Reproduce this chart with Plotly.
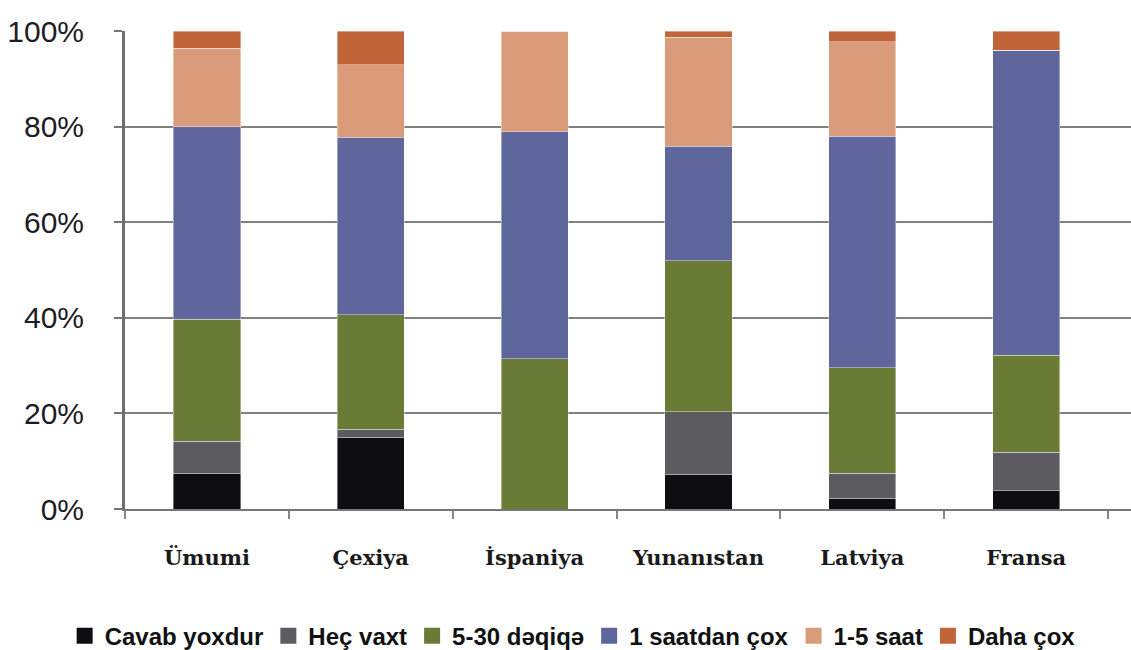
import plotly.graph_objects as go

categories = ["Ümumi", "Çexiya", "İspaniya", "Yunanıstan", "Latviya", "Fransa"]
series_names = ["Cavab yoxdur", "Heç vaxt", "5-30 dəqiqə", "1 saatdan çox", "1-5 saat", "Daha çox"]
cavab_yoxdur = [7.5, 15.0, 0.0, 7.3, 2.3, 3.8]
hec_vaxt = [6.7, 1.7, 0.0, 13.0, 5.2, 8.1]
deqiqe_5_30 = [25.5, 23.9, 31.4, 31.6, 22.0, 20.3]
saatdan_cox = [40.3, 37.2, 47.5, 24.0, 48.5, 63.8]
saat_1_5 = [16.4, 15.1, 21.1, 22.8, 19.7, 0.0]
daha_cox = [3.6, 7.1, 0.0, 1.3, 2.3, 4.0]
y_ticks = [0, 20, 40, 60, 80, 100]

colors = ["#0e0e10", "#5c5c60", "#6a7b36", "#5f669c", "#d99b79", "#c0653a"]
values = [cavab_yoxdur, hec_vaxt, deqiqe_5_30, saatdan_cox, saat_1_5, daha_cox]

fig = go.Figure()
for name, vals, col in zip(series_names, values, colors):
    fig.add_trace(go.Bar(
        x=categories, y=vals, name=name, legendgroup=name, showlegend=False,
        marker=dict(color=col, line=dict(color="rgba(255,255,255,0.5)", width=0.8)),
        width=0.41,
    ))
# legend entries with larger square swatches
for name, col in zip(series_names, colors):
    fig.add_trace(go.Scatter(
        x=[None], y=[None], mode="markers", name=name, legendgroup=name,
        marker=dict(symbol="square", size=17, color=col),
        showlegend=True,
    ))

fig.update_layout(
    barmode="stack",
    width=1131, height=650,
    paper_bgcolor="white", plot_bgcolor="white",
    margin=dict(l=125, r=0, t=31, b=141, autoexpand=False),
    showlegend=True,
    legend=dict(
        orientation="h", xref="paper", yref="paper",
        x=-0.06, xanchor="left", y=-0.266, yanchor="middle",
        font=dict(family="Liberation Sans, Arial, sans-serif",
                  size=24, color="#111111", weight="bold"),
        itemclick=False, traceorder="normal",
        itemwidth=30, tracegroupgap=0,
    ),
    font=dict(family="Liberation Sans, Arial, sans-serif", color="#1c1c24"),
)

fig.update_xaxes(
    type="category",
    range=[-0.5, 5.64],
    automargin=False,
    showgrid=False,
    showline=True, linecolor="#777777", linewidth=2,
    ticks="outside", tickson="boundaries", ticklen=8, tickwidth=2, tickcolor="#888888",
    tickfont=dict(family="DejaVu Serif, Liberation Serif, serif", size=21, color="#1a1a1a", weight="bold"),
    ticklabelstandoff=29,
)
fig.update_yaxes(
    range=[0, 100],
    automargin=False,
    tickvals=y_ticks,
    ticktext=[f"{v}%" for v in y_ticks],
    showgrid=True, gridcolor="#808080", gridwidth=2,
    showline=True, linecolor="#6e6e6e", linewidth=3,
    ticks="outside", ticklen=8, tickwidth=2, tickcolor="#777777",
    tickfont=dict(family="Liberation Sans, Arial, sans-serif", size=30, color="#1c1c26"),
    ticklabelstandoff=24,
    zeroline=False,
)

fig.write_html("out.html", config={"displayModeBar": False},
               post_script="document.body.style.margin='0';document.body.style.overflow='hidden';")
